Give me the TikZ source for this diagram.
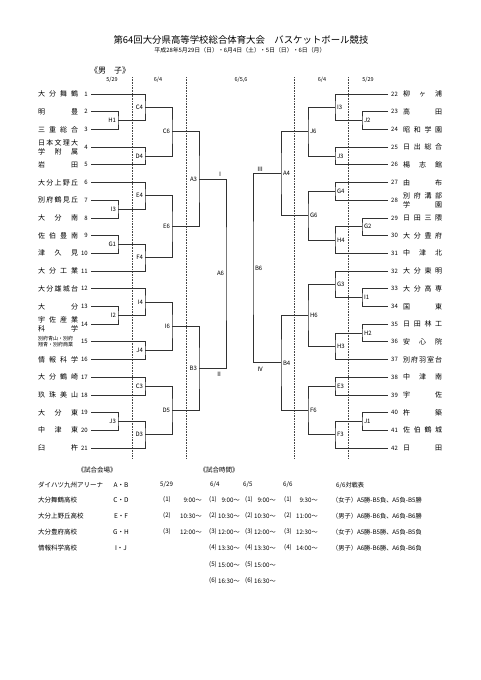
\documentclass[tikz,border=0pt]{standalone}
\usepackage{fontspec}
\setmainfont{Noto Sans CJK JP}
\usetikzlibrary{positioning}
\definecolor{bracketgray}{RGB}{50,50,50}
\definecolor{dotgray}{RGB}{70,70,70}
\newcommand\spreadname[2][40pt]{\makebox[#1][s]{\spreadchars#2\relax}}
\def\spreadchars#1#2{#1\ifx#2\relax\else\hfil\expandafter\spreadchars\fi#2}

\begin{document}
\begin{tikzpicture}[x=1pt, y=-1pt,
    tname/.style={font=\fontsize{7}{8.6}\selectfont, inner sep=0pt, align=left},
    tnum/.style={font=\fontsize{6}{7}\selectfont, inner xsep=3pt, inner ysep=0.5pt},
    mlabel/.style={font=\fontsize{6}{7}\selectfont, inner xsep=1.8pt, inner ysep=0pt},
    bline/.style={draw=bracketgray, line width=0.75pt},
    dline/.style={draw=dotgray, line width=0.6pt, dash pattern=on 0.8pt off 0.8pt},
    hdr/.style={font=\fontsize{5.5}{6}\selectfont, inner sep=0pt},
    info/.style={font=\fontsize{6.5}{7}\selectfont, inner sep=0pt, anchor=west},
    slot/.style={font=\fontsize{6.2}{7}\selectfont, inner sep=0pt, anchor=west},
    roman/.style={font=\fontsize{6}{7}\selectfont, inner sep=0pt}]
\useasboundingbox[fill=white] (0,0) rectangle (481,680);
% Title
\node[font=\fontsize{9.4}{10}\selectfont] (title) at (241,40) {第64回大分県高等学校総合体育大会　バスケットボール競技};
\node[font=\fontsize{5.9}{6}\selectfont] (subtitle) at (240,50) {平成28年5月29日（日）・6月4日（土）・5日（日）・6日（月）};
\node[font=\fontsize{8}{9}\selectfont] (boys) at (110,70) {《男　子》};
% Dates
\node[hdr] (day1l) at (112,80) {5/29};
\node[hdr] (day2l) at (158,80) {6/4};
\node[hdr] (day3) at (241,80) {6/5,6};
\node[hdr] (day2r) at (322,80) {6/4};
\node[hdr] (day1r) at (368,80) {5/29};
\draw[dline] (132,77) -- (132,458);
\draw[dline] (186,77) -- (186,458);
\draw[dline] (294,77) -- (294,458);
\draw[dline] (348,77) -- (348,458);
% Left teams
\node[tname, anchor=west] (sch1) at (38,94) {\spreadname{大分舞鶴}};
\node[tnum, anchor=east] (no1) at (91,94) {1};
\node[tname, anchor=west] (sch2) at (38,111.7) {\spreadname{明豊}};
\node[tnum, anchor=east] (no2) at (91,111.7) {2};
\node[tname, anchor=west] (sch3) at (38,129.4) {\spreadname{三重総合}};
\node[tnum, anchor=east] (no3) at (91,129.4) {3};
\node[tname, anchor=west] (sch4) at (38,147.1) {\spreadname{日本文理大}\\\spreadname{学附属}};
\node[tnum, anchor=east] (no4) at (91,147.1) {4};
\node[tname, anchor=west] (sch5) at (38,164.8) {\spreadname{岩田}};
\node[tnum, anchor=east] (no5) at (91,164.8) {5};
\node[tname, anchor=west] (sch6) at (38,182.5) {\spreadname{大分上野丘}};
\node[tnum, anchor=east] (no6) at (91,182.5) {6};
\node[tname, anchor=west] (sch7) at (38,200.2) {\spreadname{別府鶴見丘}};
\node[tnum, anchor=east] (no7) at (91,200.2) {7};
\node[tname, anchor=west] (sch8) at (38,217.9) {\spreadname{大分南}};
\node[tnum, anchor=east] (no8) at (91,217.9) {8};
\node[tname, anchor=west] (sch9) at (38,235.6) {\spreadname{佐伯豊南}};
\node[tnum, anchor=east] (no9) at (91,235.6) {9};
\node[tname, anchor=west] (sch10) at (38,253.3) {\spreadname{津久見}};
\node[tnum, anchor=east] (no10) at (91,253.3) {10};
\node[tname, anchor=west] (sch11) at (38,271) {\spreadname{大分工業}};
\node[tnum, anchor=east] (no11) at (91,271) {11};
\node[tname, anchor=west] (sch12) at (38,288.7) {\spreadname{大分雄城台}};
\node[tnum, anchor=east] (no12) at (91,288.7) {12};
\node[tname, anchor=west] (sch13) at (38,306.4) {\spreadname{大分}};
\node[tnum, anchor=east] (no13) at (91,306.4) {13};
\node[tname, anchor=west] (sch14) at (38,324.1) {\spreadname{宇佐産業}\\\spreadname{科学}};
\node[tnum, anchor=east] (no14) at (91,324.1) {14};
\node[tname, anchor=west, font=\fontsize{5}{6.2}\selectfont] (sch15) at (38,341.8) {別府青山・別府\\翔青・別府商業};
\node[tnum, anchor=east] (no15) at (91,341.8) {15};
\node[tname, anchor=west] (sch16) at (38,359.5) {\spreadname{情報科学}};
\node[tnum, anchor=east] (no16) at (91,359.5) {16};
\node[tname, anchor=west] (sch17) at (38,377.2) {\spreadname{大分鶴崎}};
\node[tnum, anchor=east] (no17) at (91,377.2) {17};
\node[tname, anchor=west] (sch18) at (38,394.9) {\spreadname{玖珠美山}};
\node[tnum, anchor=east] (no18) at (91,394.9) {18};
\node[tname, anchor=west] (sch19) at (38,412.6) {\spreadname{大分東}};
\node[tnum, anchor=east] (no19) at (91,412.6) {19};
\node[tname, anchor=west] (sch20) at (38,430.3) {\spreadname{中津東}};
\node[tnum, anchor=east] (no20) at (91,430.3) {20};
\node[tname, anchor=west] (sch21) at (38,448) {\spreadname{臼杵}};
\node[tnum, anchor=east] (no21) at (91,448) {21};
% Right teams
\node[tnum, anchor=west] (no22) at (388,94) {22};
\node[tname, anchor=west] (sch22) at (403,94) {\spreadname[39pt]{柳ヶ浦}};
\node[tnum, anchor=west] (no23) at (388,111.7) {23};
\node[tname, anchor=west] (sch23) at (403,111.7) {\spreadname[39pt]{高田}};
\node[tnum, anchor=west] (no24) at (388,129.4) {24};
\node[tname, anchor=west] (sch24) at (403,129.4) {\spreadname[39pt]{昭和学園}};
\node[tnum, anchor=west] (no25) at (388,147.1) {25};
\node[tname, anchor=west] (sch25) at (403,147.1) {\spreadname[39pt]{日出総合}};
\node[tnum, anchor=west] (no26) at (388,164.8) {26};
\node[tname, anchor=west] (sch26) at (403,164.8) {\spreadname[39pt]{楊志館}};
\node[tnum, anchor=west] (no27) at (388,182.5) {27};
\node[tname, anchor=west] (sch27) at (403,182.5) {\spreadname[39pt]{由布}};
\node[tnum, anchor=west] (no28) at (388,200.2) {28};
\node[tname, anchor=west] (sch28) at (403,200.2) {\spreadname[39pt]{別府溝部}\\\spreadname[39pt]{学園}};
\node[tnum, anchor=west] (no29) at (388,217.9) {29};
\node[tname, anchor=west] (sch29) at (403,217.9) {\spreadname[39pt]{日田三隈}};
\node[tnum, anchor=west] (no30) at (388,235.6) {30};
\node[tname, anchor=west] (sch30) at (403,235.6) {\spreadname[39pt]{大分豊府}};
\node[tnum, anchor=west] (no31) at (388,253.3) {31};
\node[tname, anchor=west] (sch31) at (403,253.3) {\spreadname[39pt]{中津北}};
\node[tnum, anchor=west] (no32) at (388,271) {32};
\node[tname, anchor=west] (sch32) at (403,271) {\spreadname[39pt]{大分東明}};
\node[tnum, anchor=west] (no33) at (388,288.7) {33};
\node[tname, anchor=west] (sch33) at (403,288.7) {\spreadname[39pt]{大分高専}};
\node[tnum, anchor=west] (no34) at (388,306.4) {34};
\node[tname, anchor=west] (sch34) at (403,306.4) {\spreadname[39pt]{国東}};
\node[tnum, anchor=west] (no35) at (388,324.1) {35};
\node[tname, anchor=west] (sch35) at (403,324.1) {\spreadname[39pt]{日田林工}};
\node[tnum, anchor=west] (no36) at (388,341.8) {36};
\node[tname, anchor=west] (sch36) at (403,341.8) {\spreadname[39pt]{安心院}};
\node[tnum, anchor=west] (no37) at (388,359.5) {37};
\node[tname, anchor=west] (sch37) at (403,359.5) {\spreadname[39pt]{別府羽室台}};
\node[tnum, anchor=west] (no38) at (388,377.2) {38};
\node[tname, anchor=west] (sch38) at (403,377.2) {\spreadname[39pt]{中津南}};
\node[tnum, anchor=west] (no39) at (388,394.9) {39};
\node[tname, anchor=west] (sch39) at (403,394.9) {\spreadname[39pt]{宇佐}};
\node[tnum, anchor=west] (no40) at (388,412.6) {40};
\node[tname, anchor=west] (sch40) at (403,412.6) {\spreadname[39pt]{杵築}};
\node[tnum, anchor=west] (no41) at (388,430.3) {41};
\node[tname, anchor=west] (sch41) at (403,430.3) {\spreadname[39pt]{佐伯鶴城}};
\node[tnum, anchor=west] (no42) at (388,448) {42};
\node[tname, anchor=west] (sch42) at (403,448) {\spreadname[39pt]{日田}};
% Left games
\node[mlabel, anchor=east] (lH1) at (118,120.55) {H1};
\node[mlabel, anchor=east] (lI3) at (118,209.05) {I3};
\node[mlabel, anchor=east] (lG1) at (118,244.45) {G1};
\node[mlabel, anchor=east] (lI2) at (118,315.25) {I2};
\node[mlabel, anchor=east] (lJ3) at (118,421.45) {J3};
\node[mlabel, anchor=east] (lC4) at (145,107.28) {C4};
\node[mlabel, anchor=east] (lD4) at (145,155.95) {D4};
\node[mlabel, anchor=east] (lE4) at (145,195.78) {E4};
\node[mlabel, anchor=east] (lF4) at (145,257.73) {F4};
\node[mlabel, anchor=east] (lI4) at (145,301.98) {I4};
\node[mlabel, anchor=east] (lJ4) at (145,350.65) {J4};
\node[mlabel, anchor=east] (lC3) at (145,386.05) {C3};
\node[mlabel, anchor=east] (lD3) at (145,434.73) {D3};
\node[mlabel, anchor=east] (lC6) at (172,131.61) {C6};
\node[mlabel, anchor=east] (lE6) at (172,226.75) {E6};
\node[mlabel, anchor=east] (lI6) at (172,326.31) {I6};
\node[mlabel, anchor=east] (lD5) at (172,410.39) {D5};
\node[mlabel, anchor=east] (lA3) at (199,179.18) {A3};
\node[mlabel, anchor=east] (lB3) at (199,368.35) {B3};
\node[mlabel, anchor=east] (lA6) at (226,273.77) {A6};
\draw[bline] (no2.east) -| (lH1.east) |- (no3.east);
\draw[bline] (no7.east) -| (lI3.east) |- (no8.east);
\draw[bline] (no9.east) -| (lG1.east) |- (no10.east);
\draw[bline] (no13.east) -| (lI2.east) |- (no14.east);
\draw[bline] (no19.east) -| (lJ3.east) |- (no20.east);
\draw[bline] (no1.east) -| (lC4.east) |- (lH1.east);
\draw[bline] (no4.east) -| (lD4.east) |- (no5.east);
\draw[bline] (no6.east) -| (lE4.east) |- (lI3.east);
\draw[bline] (lG1.east) -| (lF4.east) |- (no11.east);
\draw[bline] (no12.east) -| (lI4.east) |- (lI2.east);
\draw[bline] (no15.east) -| (lJ4.east) |- (no16.east);
\draw[bline] (no17.east) -| (lC3.east) |- (no18.east);
\draw[bline] (lJ3.east) -| (lD3.east) |- (no21.east);
\draw[bline] (lC4.east) -| (lC6.east) |- (lD4.east);
\draw[bline] (lE4.east) -| (lE6.east) |- (lF4.east);
\draw[bline] (lI4.east) -| (lI6.east) |- (lJ4.east);
\draw[bline] (lC3.east) -| (lD5.east) |- (lD3.east);
\draw[bline] (lC6.east) -| (lA3.east) |- (lE6.east);
\draw[bline] (lI6.east) -| (lB3.east) |- (lD5.east);
\draw[bline] (lA3.east) -| (lA6.east) |- (lB3.east);
\node[roman] (semi1) at (220,174) {Ⅰ};
\node[roman] (semi2) at (219,374.5) {Ⅱ};
% Right games
\node[mlabel, anchor=west] (rJ2) at (362,120.55) {J2};
\node[mlabel, anchor=west] (rG2) at (362,226.75) {G2};
\node[mlabel, anchor=west] (rI1) at (362,297.55) {I1};
\node[mlabel, anchor=west] (rH2) at (362,332.95) {H2};
\node[mlabel, anchor=west] (rJ1) at (362,421.45) {J1};
\node[mlabel, anchor=west] (rI3) at (335,107.28) {I3};
\node[mlabel, anchor=west] (rJ3) at (335,155.95) {J3};
\node[mlabel, anchor=west] (rG4) at (335,191.35) {G4};
\node[mlabel, anchor=west] (rH4) at (335,240.03) {H4};
\node[mlabel, anchor=west] (rG3) at (335,284.28) {G3};
\node[mlabel, anchor=west] (rH3) at (335,346.23) {H3};
\node[mlabel, anchor=west] (rE3) at (335,386.05) {E3};
\node[mlabel, anchor=west] (rF3) at (335,434.73) {F3};
\node[mlabel, anchor=west] (rJ6) at (308,131.61) {J6};
\node[mlabel, anchor=west] (rG6) at (308,215.69) {G6};
\node[mlabel, anchor=west] (rH6) at (308,315.25) {H6};
\node[mlabel, anchor=west] (rF6) at (308,410.39) {F6};
\node[mlabel, anchor=west] (rA4) at (281,173.65) {A4};
\node[mlabel, anchor=west] (rB4) at (281,362.82) {B4};
\node[mlabel, anchor=west] (rB6) at (253,268.24) {B6};
\draw[bline] (no23.west) -| (rJ2.west) |- (no24.west);
\draw[bline] (no29.west) -| (rG2.west) |- (no30.west);
\draw[bline] (no33.west) -| (rI1.west) |- (no34.west);
\draw[bline] (no35.west) -| (rH2.west) |- (no36.west);
\draw[bline] (no40.west) -| (rJ1.west) |- (no41.west);
\draw[bline] (no22.west) -| (rI3.west) |- (rJ2.west);
\draw[bline] (no25.west) -| (rJ3.west) |- (no26.west);
\draw[bline] (no27.west) -| (rG4.west) |- (no28.west);
\draw[bline] (rG2.west) -| (rH4.west) |- (no31.west);
\draw[bline] (no32.west) -| (rG3.west) |- (rI1.west);
\draw[bline] (rH2.west) -| (rH3.west) |- (no37.west);
\draw[bline] (no38.west) -| (rE3.west) |- (no39.west);
\draw[bline] (rJ1.west) -| (rF3.west) |- (no42.west);
\draw[bline] (rI3.west) -| (rJ6.west) |- (rJ3.west);
\draw[bline] (rG4.west) -| (rG6.west) |- (rH4.west);
\draw[bline] (rG3.west) -| (rH6.west) |- (rH3.west);
\draw[bline] (rE3.west) -| (rF6.west) |- (rF3.west);
\draw[bline] (rJ6.west) -| (rA4.west) |- (rG6.west);
\draw[bline] (rH6.west) -| (rB4.west) |- (rF6.west);
\draw[bline] (rA4.west) -| (rB6.west) |- (rB4.west);
\node[roman] (semi3) at (260,169) {Ⅲ};
\node[roman] (semi4) at (260,369) {Ⅳ};
% Venues
\node[info, anchor=center] (venhead) at (97,470) {《試合会場》};
\node[info] (ven1) at (38,485) {ダイハツ九州アリーナ};
\node[info, anchor=center] (crt1) at (121,485) {A・B};
\node[info] (ven2) at (38,500) {大分舞鶴高校};
\node[info, anchor=center] (crt2) at (121,500) {C・D};
\node[info] (ven3) at (38,516) {大分上野丘高校};
\node[info, anchor=center] (crt3) at (121,516) {E・F};
\node[info] (ven4) at (38,532) {大分豊府高校};
\node[info, anchor=center] (crt4) at (121,532) {G・H};
\node[info] (ven5) at (38,548) {情報科学高校};
\node[info, anchor=center] (crt5) at (121,548) {I・J};
% Times
\node[info, anchor=center] (timehead) at (219,470) {《試合時間》};
\node[slot] (col1) at (160,485) {5/29};
\node[slot] (col2) at (210,485) {6/4};
\node[slot] (col3) at (243,485) {6/5};
\node[slot] (col4) at (283,485) {6/6};
\node[slot] (col5) at (336,485) {6/6対戦表};
\node[slot] (a1) at (163,500) {(1)};
\node[slot, anchor=east] (ta1) at (202,500) {9:00～};
\node[slot] (a2) at (163,516) {(2)};
\node[slot, anchor=east] (ta2) at (202,516) {10:30～};
\node[slot] (a3) at (163,532) {(3)};
\node[slot, anchor=east] (ta3) at (202,532) {12:00～};
\node[slot] (b1) at (209,500) {(1)};
\node[slot, anchor=east] (tb1) at (240,500) {9:00～};
\node[slot] (b2) at (209,516) {(2)};
\node[slot, anchor=east] (tb2) at (240,516) {10:30～};
\node[slot] (b3) at (209,532) {(3)};
\node[slot, anchor=east] (tb3) at (240,532) {12:00～};
\node[slot] (b4) at (209,548) {(4)};
\node[slot, anchor=east] (tb4) at (240,548) {13:30～};
\node[slot] (b5) at (209,565) {(5)};
\node[slot, anchor=east] (tb5) at (240,565) {15:00～};
\node[slot] (b6) at (209,581) {(6)};
\node[slot, anchor=east] (tb6) at (240,581) {16:30～};
\node[slot] (c1) at (245,500) {(1)};
\node[slot, anchor=east] (tc1) at (276,500) {9:00～};
\node[slot] (c2) at (245,516) {(2)};
\node[slot, anchor=east] (tc2) at (276,516) {10:30～};
\node[slot] (c3) at (245,532) {(3)};
\node[slot, anchor=east] (tc3) at (276,532) {12:00～};
\node[slot] (c4) at (245,548) {(4)};
\node[slot, anchor=east] (tc4) at (276,548) {13:30～};
\node[slot] (c5) at (245,565) {(5)};
\node[slot, anchor=east] (tc5) at (276,565) {15:00～};
\node[slot] (c6) at (245,581) {(6)};
\node[slot, anchor=east] (tc6) at (276,581) {16:30～};
\node[slot] (d1) at (284,500) {(1)};
\node[slot, anchor=east] (td1) at (318,500) {9:30～};
\node[slot] (d2) at (284,516) {(2)};
\node[slot, anchor=east] (td2) at (318,516) {11:00～};
\node[slot] (d3) at (284,532) {(3)};
\node[slot, anchor=east] (td3) at (318,532) {12:30～};
\node[slot] (d4) at (284,548) {(4)};
\node[slot, anchor=east] (td4) at (318,548) {14:00～};
% Final day pairings
\node[slot] (pair1) at (332,500) {（女子）A5勝-B5負、A5負-B5勝};
\node[slot] (pair2) at (332,516) {（男子）A6勝-B6負、A6負-B6勝};
\node[slot] (pair3) at (332,532) {（女子）A5勝-B5勝、A5負-B5負};
\node[slot] (pair4) at (332,548) {（男子）A6勝-B6勝、A6負-B6負};
\end{tikzpicture}
\end{document}
